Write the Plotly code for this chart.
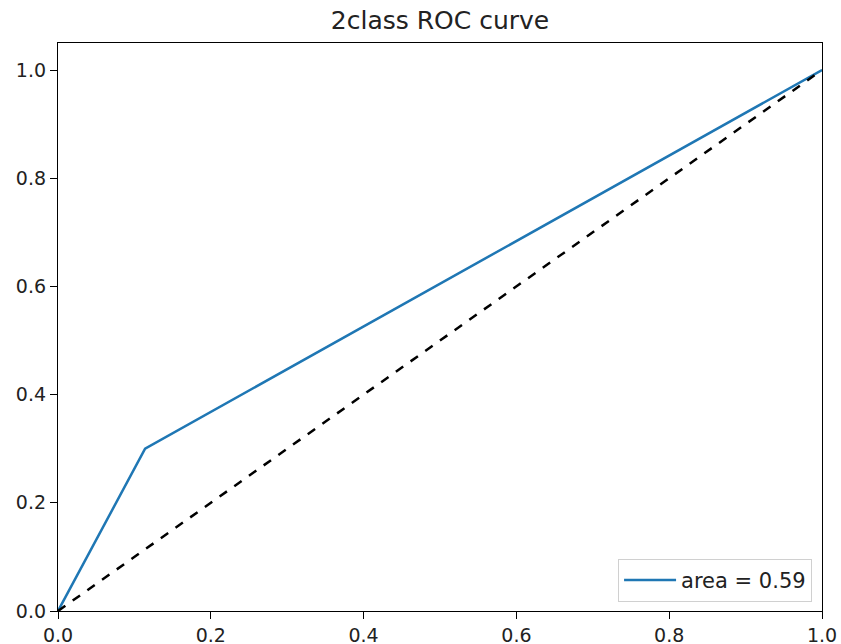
import plotly.graph_objects as go

fpr = [0.0, 0.114, 1.0]
tpr = [0.0, 0.30, 1.0]
diag_x = [0.0, 1.0]
diag_y = [0.0, 1.0]
roc_label = "area = 0.59"
title_text = "2class ROC curve"
tick_vals = [0.0, 0.2, 0.4, 0.6, 0.8, 1.0]
tick_text = ["0.0", "0.2", "0.4", "0.6", "0.8", "1.0"]

fig = go.Figure()
fig.add_trace(go.Scatter(x=fpr, y=tpr, mode="lines", name=roc_label,
                         line=dict(color="#1f77b4", width=2.5)))
fig.add_trace(go.Scatter(x=diag_x, y=diag_y, mode="lines", showlegend=False,
                         line=dict(color="black", width=2.5, dash="dash")))

axis_common = dict(showline=True, linecolor="black", linewidth=1.3, mirror=True,
                   ticks="outside", ticklen=7, tickwidth=1.3, tickcolor="black",
                   showgrid=False, zeroline=False, automargin=False,
                   tickfont=dict(family="DejaVu Sans", size=19, color="#222"),
                   tickvals=tick_vals, ticktext=tick_text)
fig.update_xaxes(range=[0, 1], **axis_common)
fig.update_yaxes(range=[0, 1.05], **axis_common)

fig.update_layout(
    width=841, height=644,
    margin=dict(l=58, r=19, t=43, b=33),
    paper_bgcolor="white", plot_bgcolor="white",
    title=dict(text=title_text, x=(58 + 822) / 2 / 841, xanchor="center",
               y=1 - 20 / 644, yanchor="middle",
               font=dict(family="DejaVu Sans", size=25, color="#222")),
    legend=dict(x=0.987, y=0.016, xanchor="right", yanchor="bottom",
                itemwidth=52,
                bgcolor="rgba(255,255,255,0.8)", bordercolor="#d0d0d0", borderwidth=1,
                font=dict(family="DejaVu Sans", size=21, color="#222")),
    showlegend=True,
)
fig.write_html("out.html")
